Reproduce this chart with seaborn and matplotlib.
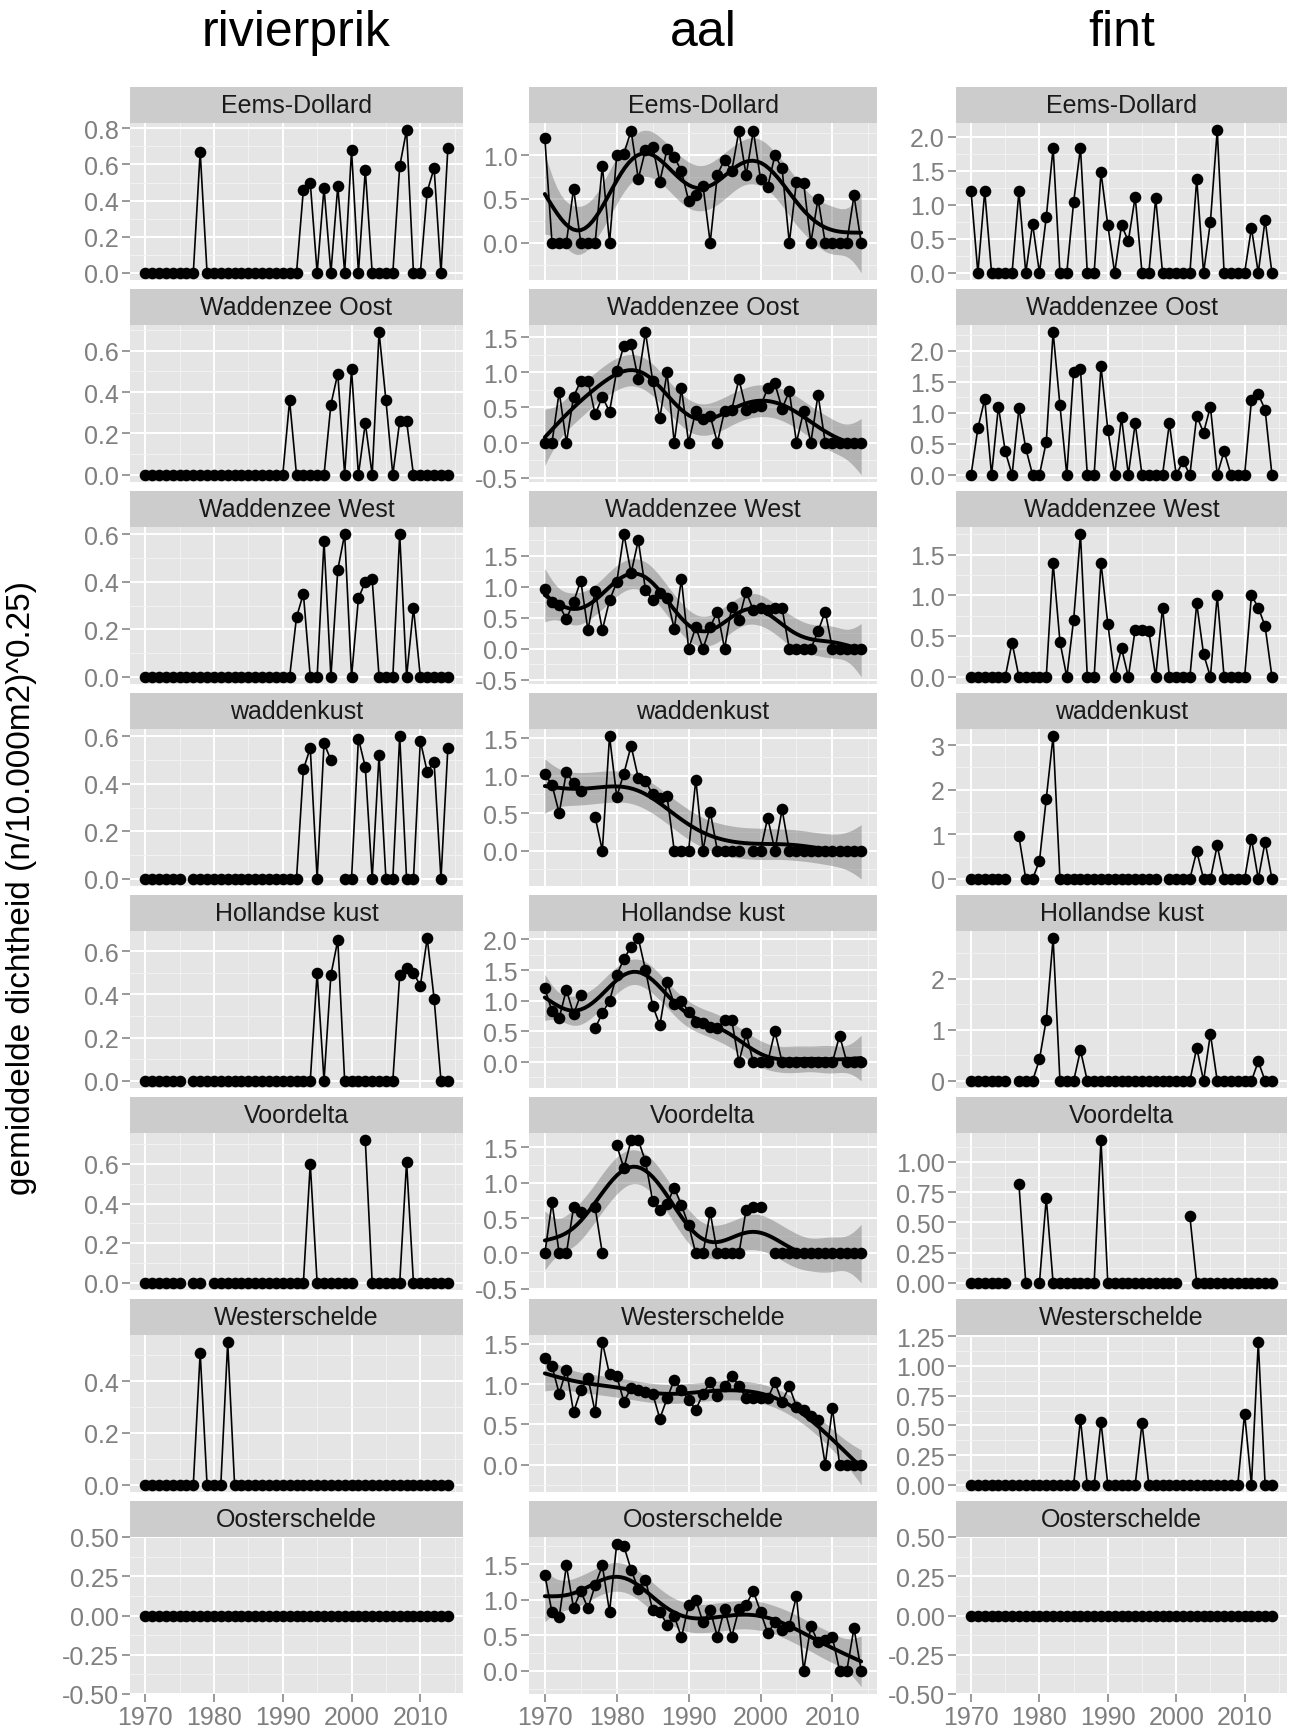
import numpy as np
import pandas as pd
import matplotlib
matplotlib.use("Agg")
import matplotlib.pyplot as plt
import seaborn as sns

nan = np.nan
years = list(range(1970, 2015))

species = ["rivierprik", "aal", "fint"]
areas = ["Eems-Dollard", "Waddenzee Oost", "Waddenzee West", "waddenkust",
         "Hollandse kust", "Voordelta", "Westerschelde", "Oosterschelde"]

# rivierprik
rivierprik_eems = [0]*8 + [0.67] + [0]*14 + [0.46, 0.50, 0, 0.47, 0, 0.48, 0, 0.68, 0, 0.57, 0, 0, 0, 0,
                                             0.59, 0.79, 0, 0, 0.45, 0.58, 0, 0.69]
rivierprik_wo = [0]*21 + [0.36] + [0]*5 + [0.34, 0.49, 0, 0.51, 0, 0.25, 0, 0.69, 0.36, 0, 0.26, 0.26] + [0]*6
rivierprik_ww = [0]*22 + [0.25, 0.35, 0, 0, 0.57, 0, 0.45, 0.60, 0, 0.33, 0.40, 0.41, 0, 0, 0, 0.60, 0, 0.29] + [0]*5
rivierprik_wk = [0]*6 + [nan] + [0]*16 + [0.46, 0.55, 0, 0.57, 0.50, nan, 0, 0, 0.59, 0.47, 0, 0.52, 0, 0,
                                          0.60, 0, 0, 0.58, 0.45, 0.49, 0, 0.55]
rivierprik_hk = [0]*6 + [nan] + [0]*18 + [0.50, 0, 0.49, 0.65] + [0]*8 + [0.49, 0.52, 0.50, 0.44, 0.66, 0.38, 0, 0]
rivierprik_vd = [0]*6 + [nan, 0, 0, nan] + [0]*14 + [0.60] + [0]*6 + [nan, 0.72] + [0]*5 + [0.61] + [0]*6
rivierprik_ws = [0]*8 + [0.51, 0, 0, 0, 0.55] + [0]*32
rivierprik_os = [0]*45

# aal
aal_eems = [1.2, 0, 0, 0, 0.62, 0, 0, 0, 0.88, 0,
            1.0, 1.02, 1.28, 0.73, 1.06, 1.1, 0.7, 1.07, 0.98, 0.82,
            0.48, 0.55, 0.65, 0, 0.78, 0.95, 0.82, 1.28, 0.77, 1.28,
            0.73, 0.64, 1.0, 0.85, 0, 0.7, 0.68, 0, 0.5, 0,
            0, 0, 0, 0.54, 0]
aal_wo = [0, 0, 0.72, 0, 0.65, 0.88, 0.88, 0.40, 0.65, 0.44,
          1.02, 1.38, 1.40, 0.90, 1.57, 0.88, 0.35, 1.0, 0, 0.77,
          0, 0.45, 0.33, 0.38, 0, 0.45, 0.47, 0.90, 0.47, 0.50,
          0.52, 0.77, 0.84, 0.48, 0.73, 0, 0.45, 0, 0.68, 0,
          0, 0, 0, 0, 0]
aal_ww = [0.97, 0.75, 0.70, 0.48, 0.75, 1.1, 0.30, 0.93, 0.30, 0.78,
          1.07, 1.85, 1.22, 1.75, 0.95, 0.78, 0.90, 0.82, 0.32, 1.12,
          0, 0.35, 0, 0.35, 0.60, 0, 0.67, 0.47, 0.92, 0.62,
          0.65, 0.62, 0.65, 0.65, 0, 0, 0, 0, 0.28, 0.60,
          0, 0, 0, 0, 0]
aal_wk = [1.02, 0.88, 0.5, 1.05, 0.9, 0.8, nan, 0.45, 0, 1.53,
          0.72, 1.03, 1.4, 0.97, 0.93, 0.75, 0.7, 0.73,
          0, 0, 0, 0.95, 0, 0.52, 0, 0, 0, 0, nan, 0, 0, 0.44, 0, 0.55] + [0]*11
aal_hk = [1.2, 0.83, 0.72, 1.18, 0.78, 1.1, nan, 0.55, 0.8, 1.0,
          1.42, 1.68, 1.88, 2.02, 1.5, 0.92, 0.6, 1.3, 0.95, 1.0,
          0.82, 0.65, 0.63, 0.57, 0.55, 0.68, 0.68, 0, 0.47, 0,
          0, 0, 0.5, 0, 0, 0, 0, 0, 0, 0,
          0, 0.43, 0, 0, 0]
aal_vd = [0, 0.72, 0, 0, 0.65, 0.58, nan, 0.65, 0, nan,
          1.53, 1.2, 1.6, 1.6, 1.3, 0.74, 0.62, 0.7, 0.93, 0.68,
          0.4, 0, 0, 0.58, 0, 0, 0, 0, 0.62, 0.65,
          0.66, nan] + [0]*13
aal_ws = [1.32, 1.22, 0.88, 1.18, 0.65, 0.92, 1.08, 0.65, 1.52, 1.12,
          1.1, 0.78, 0.95, 0.93, 0.9, 0.88, 0.57, 0.82, 1.05, 0.93,
          0.8, 0.68, 0.88, 1.02, 0.85, 0.98, 1.1, 0.98, 0.82, 0.82,
          0.82, 0.82, 1.02, 0.78, 0.97, 0.72, 0.68, 0.6, 0.55, 0,
          0.7, 0, 0, 0, 0]
aal_os = [1.35, 0.82, 0.75, 1.48, 0.88, 1.12, 0.88, 1.2, 1.48, 0.83,
          1.78, 1.75, 1.42, 1.15, 1.28, 0.85, 0.83, 0.65, 0.77, 0.47,
          0.92, 1.0, 0.68, 0.85, 0.48, 0.87, 0.48, 0.87, 0.93, 1.12,
          0.83, 0.53, 0.68, 0.57, 0.63, 1.05, 0, 0.63, 0.4, 0.43,
          0.47, 0, 0, 0.6, 0]

# fint
fint_eems = [1.2, 0, 1.2, 0, 0, 0, 0, 1.2, 0, 0.72,
             0, 0.82, 1.84, 0, 0, 1.04, 1.84, 0, 0, 1.48,
             0.7, 0, 0.7, 0.47, 1.12, 0, 0, 1.1, 0, 0,
             0, 0, 0, 1.38, 0, 0.75, 2.1, 0, 0, 0,
             0, 0.66, 0, 0.78, 0]
fint_wo = [0, 0.75, 1.22, 0, 1.1, 0.38, 0, 1.07, 0.43, 0,
           0, 0.53, 2.3, 1.12, 0, 1.66, 1.7, 0, 0, 1.75,
           0.73, 0, 0.93, 0, 0.83, 0, 0, 0, 0, 0.83,
           0, 0.22, 0, 0.95, 0.68, 1.1, 0, 0.38, 0, 0,
           0, 1.2, 1.3, 1.05, 0]
fint_ww = [0, 0, 0, 0, 0, 0, 0.42, 0, 0, 0,
           0, 0, 1.4, 0.43, 0, 0.7, 1.75, 0, 0, 1.4,
           0.65, 0, 0.35, 0, 0.58, 0.57, 0.56, 0, 0.85, 0,
           0, 0, 0, 0.9, 0.28, 0, 1.0, 0, 0, 0,
           0, 1.0, 0.85, 0.62, 0]
fint_wk = [0]*6 + [nan, 0.95, 0, 0, 0.4, 1.8, 3.2] + [0]*15 + [nan] + [0, 0, 0, 0, 0.62, 0, 0, 0.75, 0, 0, 0, 0,
                                                                     0.9, 0, 0.83, 0]
fint_hk = [0]*6 + [nan, 0, 0, 0, 0.42, 1.2, 2.8, 0, 0, 0, 0.6] + [0]*16 + [0.65, 0, 0.92] + [0]*6 + [0.38, 0, 0]
fint_vd = [0]*6 + [nan, 0.82, 0, nan, 0, 0.7] + [0]*7 + [1.18] + [0]*11 + [nan, 0.55] + [0]*12
fint_ws = [0]*16 + [0.55, 0, 0, 0.53] + [0]*5 + [0.52] + [0]*14 + [0.6, 0, 1.2, 0, 0]
fint_os = [0]*45

values = {
    "rivierprik": [rivierprik_eems, rivierprik_wo, rivierprik_ww, rivierprik_wk,
                   rivierprik_hk, rivierprik_vd, rivierprik_ws, rivierprik_os],
    "aal": [aal_eems, aal_wo, aal_ww, aal_wk, aal_hk, aal_vd, aal_ws, aal_os],
    "fint": [fint_eems, fint_wo, fint_ww, fint_wk, fint_hk, fint_vd, fint_ws, fint_os],
}

yticks = {
    "rivierprik": [[0, 0.2, 0.4, 0.6, 0.8], [0, 0.2, 0.4, 0.6], [0, 0.2, 0.4, 0.6], [0, 0.2, 0.4, 0.6],
                   [0, 0.2, 0.4, 0.6], [0, 0.2, 0.4, 0.6], [0, 0.2, 0.4], [-0.5, -0.25, 0, 0.25, 0.5]],
    "aal": [[-0.5, 0, 0.5, 1.0], [-0.5, 0, 0.5, 1.0, 1.5], [-0.5, 0, 0.5, 1.0, 1.5], [-0.5, 0, 0.5, 1.0, 1.5],
            [-0.5, 0, 0.5, 1.0, 1.5, 2.0], [-0.5, 0, 0.5, 1.0, 1.5], [-0.5, 0, 0.5, 1.0, 1.5],
            [-0.5, 0, 0.5, 1.0, 1.5]],
    "fint": [[0, 0.5, 1.0, 1.5, 2.0], [0, 0.5, 1.0, 1.5, 2.0], [0, 0.5, 1.0, 1.5], [0, 1, 2, 3],
             [0, 1, 2], [0, 0.25, 0.5, 0.75, 1.0], [0, 0.25, 0.5, 0.75, 1.0, 1.25],
             [-0.5, -0.25, 0, 0.25, 0.5]],
}
xticks = [1970, 1980, 1990, 2000, 2010]


def gam_smooth(x, y, xs, k=10):
    # penalised thin plate regression spline (like mgcv s(x)), smoothness by GCV
    n = len(x)
    u = (x - 1970) / 44.0
    us = (xs - 1970) / 44.0
    E = np.abs(u[:, None] - u[None, :]) ** 3 / 12
    d, U = np.linalg.eigh(E)
    idx = np.argsort(-np.abs(d))[:k]
    Uk, Dk = U[:, idx], np.diag(d[idx])
    T = np.column_stack([np.ones(n), u])
    Q, _ = np.linalg.qr((T.T @ Uk).T, mode="complete")
    Z = Q[:, 2:]
    X = np.column_stack([T, Uk @ Dk @ Z])
    S = np.zeros((k, k))
    S[2:, 2:] = Z.T @ Dk @ Z
    S = (S + S.T) / 2
    Enew = np.abs(us[:, None] - u[None, :]) ** 3 / 12
    Xp = np.column_stack([np.ones(len(us)), us, Enew @ Uk @ Z])
    XtX = X.T @ X
    sp0 = np.mean(np.diag(XtX)[2:]) / np.mean(np.diag(S)[2:])
    best = None
    for lam in sp0 * np.logspace(-10, 8, 721):
        Ainv = np.linalg.inv(XtX + lam * S)
        edf = np.trace(Ainv @ XtX)
        beta = Ainv @ X.T @ y
        rss = np.sum((y - X @ beta) ** 2)
        gcv = n * rss / (n - edf) ** 2
        if best is None or gcv < best[0]:
            best = (gcv, Ainv, beta, rss, edf)
    _, Ainv, beta, rss, edf = best
    sig2 = rss / (n - edf)
    fit = Xp @ beta
    se = np.sqrt(np.einsum("ij,jk,ik->i", Xp, Ainv * sig2, Xp))
    dfr = n - edf
    z = 1.959964
    t = z + (z ** 3 + z) / (4 * dfr) + (5 * z ** 5 + 16 * z ** 3 + 3 * z) / (96 * dfr ** 2)
    return fit, fit - t * se, fit + t * se


def fmt_ticks(ticks):
    dec = 0
    for t in ticks:
        s = ("%g" % t)
        if "." in s:
            dec = max(dec, len(s.split(".")[1]))
    return [f"{t:.{dec}f}" for t in ticks]


sns.set_theme(style="darkgrid")
plt.rcParams["font.family"] = ["Liberation Sans", "DejaVu Sans"]
plt.rcParams["axes.unicode_minus"] = False

W, H = 1300, 1731
fig = plt.figure(figsize=(13, 17.31), dpi=100)
fig.patch.set_facecolor("white")

col_x = [(130, 463), (529, 877), (956, 1287)]
row0, pitch, strip_h, panel_h = 88, 202, 36, 157
grey50 = "#7F7F7F"

for c, sp in enumerate(species):
    x0, x1 = col_x[c]
    fig.text((x0 + x1) / 2 / W, 1 - 33 / H, sp, ha="center", va="center", fontsize=36, color="black")
    for r, area in enumerate(areas):
        top = row0 + r * pitch
        sax = fig.add_axes([x0 / W, 1 - (top + strip_h) / H, (x1 - x0) / W, strip_h / H])
        sax.set_facecolor("#CCCCCC")
        sax.set_xticks([])
        sax.set_yticks([])
        sax.grid(False)
        for s in sax.spines.values():
            s.set_visible(False)
        sax.text(0.5, 0.5, area, ha="center", va="center", fontsize=18, color="#1A1A1A",
                 transform=sax.transAxes)

        ax = fig.add_axes([x0 / W, 1 - (top + strip_h + panel_h) / H, (x1 - x0) / W, panel_h / H])
        ax.set_facecolor("#E5E5E5")
        for s in ax.spines.values():
            s.set_visible(False)

        df = pd.DataFrame({"jaar": years, "dichtheid": values[sp][r]})
        ylo = df["dichtheid"].min()
        yhi = df["dichtheid"].max()

        if sp == "aal":
            ok = df.dropna()
            xs = np.linspace(1970, 2014, 80)
            fit, lo, hi = gam_smooth(ok["jaar"].to_numpy(float), ok["dichtheid"].to_numpy(float), xs)
            ax.fill_between(xs, lo, hi, color="#666666", alpha=0.4, lw=0, zorder=2)
            ylo = min(ylo, lo.min())
            yhi = max(yhi, hi.max())

        ax.plot(df["jaar"], df["dichtheid"], color="black", lw=1.2, zorder=3)
        sns.scatterplot(data=df, x="jaar", y="dichtheid", ax=ax, color="black", s=70,
                        linewidth=0, zorder=4)
        if sp == "aal":
            sns.lineplot(x=xs, y=fit, ax=ax, color="black", lw=2.8, zorder=5)

        if yhi == ylo:
            ylim = (ylo - 0.5, yhi + 0.5)
        else:
            pad = 0.05 * (yhi - ylo)
            ylim = (ylo - pad, yhi + pad)
        ax.set_xlim(1967.8, 2016.2)
        ax.set_ylim(*ylim)

        yt = [t for t in yticks[sp][r] if ylim[0] <= t <= ylim[1]]
        step = yticks[sp][r][-1] - yticks[sp][r][-2]
        ym = np.arange(yt[0] - step / 2, yt[-1] + step, step)
        ym = [m for m in ym if ylim[0] <= m <= ylim[1]]
        ax.set_yticks(yt)
        ax.set_yticklabels(fmt_ticks(yt))
        ax.set_yticks(ym, minor=True)
        ax.set_xticks(xticks)
        ax.set_xticks([1975, 1985, 1995, 2005, 2015], minor=True)

        ax.grid(which="major", color="white", lw=1.4)
        ax.grid(which="minor", color="#F2F2F2", lw=0.7)
        ax.set_axisbelow(True)
        ax.set_xlabel("")
        ax.set_ylabel("")
        ax.tick_params(axis="y", which="major", left=True, length=6, width=1.1, color=grey50,
                       labelsize=18, labelcolor=grey50, pad=2)
        ax.tick_params(which="minor", length=0)
        if r == len(areas) - 1:
            ax.tick_params(axis="x", which="major", bottom=True, length=6, width=1.1, color=grey50,
                           labelsize=18, labelcolor=grey50, pad=2)
        else:
            ax.tick_params(axis="x", which="major", bottom=False, labelbottom=False)

fig.text(22 / W, 1 - 888 / H, "gemiddelde dichtheid (n/10.000m2)^0.25)", rotation=90,
         ha="center", va="center", fontsize=24, color="black")

fig.savefig("out.png", dpi=100, facecolor="white")
